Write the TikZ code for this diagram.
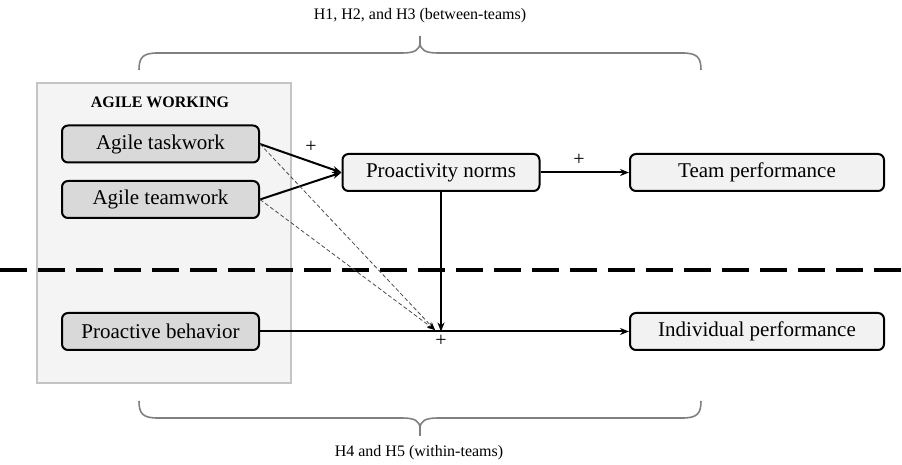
\documentclass[tikz,border=0pt]{standalone}
\usepackage{fontspec}
\setmainfont{Liberation Serif}
\usepackage{tikz}
\usetikzlibrary{arrows.meta}

\definecolor{panelFill}{HTML}{F4F4F4}
\definecolor{panelLine}{HTML}{C4C4C4}
\definecolor{agileFill}{HTML}{D9D9D9}
\definecolor{outFill}{HTML}{F2F2F2}
\definecolor{braceGray}{HTML}{808080}

\begin{document}
\begin{tikzpicture}[x = 0.5pt, y = -0.5pt,
        varbox/.style = {draw, rectangle, rounded corners = 3pt, line width = 1pt, inner sep = 0pt, minimum width = 98.5pt, minimum height = 18.5pt, font = \fontsize{10.5}{12}\selectfont},
        agilebox/.style = {varbox, fill = agileFill},
        outbox/.style = {varbox, fill = outFill},
        path/.style = {line width = 1pt, -{Stealth[length = 4.5pt, width = 3.5pt]}},
        modpath/.style = {dashed, dash pattern = on 2pt off 1.2pt, line width = 0.4pt, black!70, -{Stealth[length = 4pt, width = 3pt, black]}},
        sign/.style = {font = \normalsize},
        brace/.style = {braceGray, line width = 0.8pt}
    ]
        \useasboundingbox (0, 0) rectangle (902, 465);

        \draw[fill = panelFill, draw = panelLine, line width = 0.6pt]
            (37, 83) rectangle (291, 383)
        ;

        \draw[line width = 2pt, dash pattern = on 13.5pt off 5.5pt]
            (0, 270) -- (902, 270)
        ;

        \draw
            (160, 102) node[font = \footnotesize\bfseries](agileTitle){AGILE WORKING}
            (160.5, 144) node[agilebox](agileTask){Agile taskwork}
            (160.5, 199.5) node[agilebox](agileTeam){Agile teamwork}
            (160.5, 331.5) node[agilebox](proBehav){Proactive behavior}
            (441, 172.5) node[outbox](proNorms){Proactivity norms}
            (757, 172.5) node[outbox, minimum width = 127pt](teamPerf){Team performance}
            (757, 331.5) node[outbox, minimum width = 127pt](indPerf){Individual performance}
        ;

        \coordinate (meet) at (proNorms.south |- indPerf.west);
        \coordinate (modEnd) at (435, 330);

        \draw[path]
            (agileTask.east) -- (proNorms.west)
        ;
        \draw[path]
            (agileTeam.east) -- (proNorms.west)
        ;
        \draw[path]
            (proNorms.east) -- (teamPerf.west)
        ;
        \draw[path]
            (proNorms.south) -- (meet)
        ;
        \draw[path]
            (proBehav.east) -- (indPerf.west)
        ;
        \draw[modpath]
            (agileTask.east) -- (modEnd)
        ;
        \draw[modpath]
            (agileTeam.east) -- (modEnd)
        ;

        \draw
            (311, 147) node[sign]{+}
            (579, 160) node[sign]{+}
            (441, 341) node[sign]{+}
        ;

        \draw[brace]
            (139, 70) .. controls (139, 57) and (143, 53) .. (158, 53) -- (402, 53)
            .. controls (415, 53) and (420, 50) .. (420, 42) -- (420, 36)
            (420, 42) .. controls (420, 50) and (425, 53) .. (438, 53) -- (682, 53)
            .. controls (697, 53) and (701, 57) .. (701, 70)
        ;
        \draw[brace]
            (139, 401) .. controls (139, 414) and (143, 418) .. (158, 418) -- (402, 418)
            .. controls (415, 418) and (420, 421) .. (420, 429) -- (420, 436)
            (420, 429) .. controls (420, 421) and (425, 418) .. (438, 418) -- (682, 418)
            .. controls (697, 418) and (701, 414) .. (701, 401)
        ;

        \draw
            (420, 16) node[font = \footnotesize](topNote){H1, H2, and H3 (between-teams)}
            (419, 453) node[font = \footnotesize](botNote){H4 and H5 (within-teams)}
        ;
    \end{tikzpicture}
\end{document}
